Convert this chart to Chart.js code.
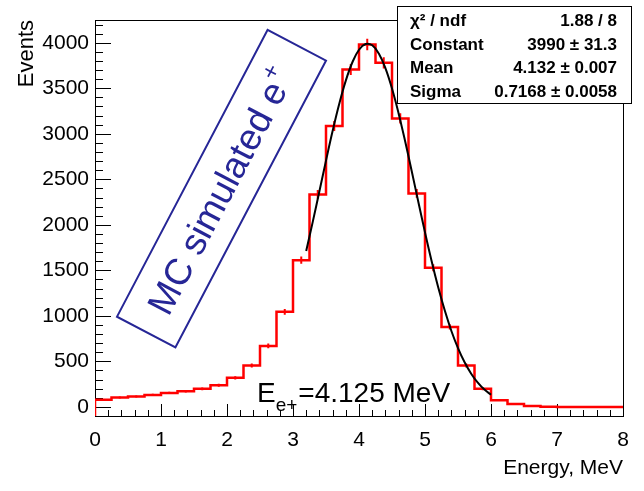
<!DOCTYPE html>
<html>
<head>
<meta charset="utf-8">
<title>MC simulated e+ energy</title>
<script src="https://cdn.jsdelivr.net/npm/chart.js@4.4.1/dist/chart.umd.min.js"></script>
<style>
  html, body { margin: 0; padding: 0; background: #fff; }
  canvas { display: block; }
</style>
</head>
<body>
<canvas id="chart" width="644" height="491"></canvas>
<script>
(function(){
    "use strict";

    // histogram: lower bin edges (MeV) and counts per bin
    const binEdges = [0, 0.25, 0.5, 0.75, 1, 1.25, 1.5, 1.75, 2, 2.25, 2.5, 2.75, 3, 3.25, 3.5, 3.75,
                      4, 4.25, 4.5, 4.75, 5, 5.25, 5.5, 5.75, 6, 6.25, 6.5, 6.75, 7, 7.25, 7.5, 7.75];
    const binCounts = [78, 103, 114, 132, 154, 172, 198, 238, 319, 455, 670, 1044, 1612, 2334, 3085, 3707,
                       3982, 3780, 3169, 2345, 1528, 879, 455, 198, 74, 33, 11, 2, 0, 0, 0, 0];

    // gaussian fit curve
    const fitEnergy = [3.2, 3.3, 3.4, 3.5, 3.6, 3.7, 3.8, 3.9, 4.0, 4.1, 4.2, 4.3, 4.4, 4.5, 4.6,
                       4.7, 4.8, 4.9, 5.0, 5.1, 5.2, 5.3, 5.4, 5.5, 5.6, 5.7, 5.8, 5.9, 6.0];
    const fitEvents = [1713, 2035, 2369, 2705, 3030, 3327, 3584, 3786, 3923, 3986, 3972, 3882, 3721, 3497, 3224,
                       2915, 2585, 2248, 1917, 1603, 1315, 1058, 834, 646, 490, 365, 266, 190, 134];

    const xTickLabels = [0, 1, 2, 3, 4, 5, 6, 7, 8];
    const yTickLabels = [0, 500, 1000, 1500, 2000, 2500, 3000, 3500, 4000];

    const statNames = ['χ² / ndf', 'Constant', 'Mean', 'Sigma'];
    const statValues = ['1.88 / 8', '3990 ± 31.3', '4.132 ± 0.007', '0.7168 ± 0.0058'];

    const FONT = '"Liberation Sans", Arial, Helvetica, sans-serif';
    const BLUE = 'rgb(38,38,150)';
    const Y_MIN = -100;
    const Y_MAX = 4250;

    const histPoints = [{x: binEdges[0], y: Y_MIN}]
        .concat(binEdges.map((e, i) => ({x: e, y: binCounts[i]})))
        .concat([{x: 8, y: binCounts[binCounts.length - 1]}]);

    const fitPoints = fitEnergy.map((e, i) => ({x: e, y: fitEvents[i]}));

    // ROOT style frame with inward ticks
    const rootAxes = {
        id: 'rootAxes',
        beforeDatasetsDraw(chart) {
            const {ctx, chartArea: a, scales: {x, y}} = chart;
            ctx.save();
            ctx.strokeStyle = '#000';
            ctx.lineWidth = 1;
            ctx.beginPath();
            for (let i = 0; i <= 40; i++) {
                const px = Math.round(x.getPixelForValue(i * 0.2)) + 0.5;
                const len = i % 5 === 0 ? 12 : 6;
                ctx.moveTo(px, a.bottom);
                ctx.lineTo(px, a.bottom - len);
            }
            for (let v = 0; v <= 4200; v += 100) {
                const py = Math.round(y.getPixelForValue(v)) + 0.5;
                const len = v % 500 === 0 ? 16 : 8;
                ctx.moveTo(a.left, py);
                ctx.lineTo(a.left + len, py);
            }
            ctx.stroke();
            ctx.strokeRect(Math.round(a.left) + 0.5, Math.round(a.top) + 0.5,
                           Math.round(a.right - a.left), Math.round(a.bottom - a.top));
            ctx.restore();
        }
    };

    // sqrt(N) error bars at bin centres
    const errorBars = {
        id: 'errorBars',
        afterDatasetDraw(chart, args) {
            if (args.index !== 0) return;
            const {ctx, chartArea: a, scales: {x, y}} = chart;
            const half = (binEdges[1] - binEdges[0]) / 2;
            ctx.save();
            ctx.beginPath();
            ctx.rect(a.left, a.top, a.right - a.left, a.bottom - a.top);
            ctx.clip();
            ctx.strokeStyle = '#ff0000';
            ctx.lineWidth = 2;
            ctx.beginPath();
            binCounts.forEach(function(n, i){
                if (n <= 0) return;
                const cx = x.getPixelForValue(binEdges[i] + half);
                const err = Math.sqrt(n);
                ctx.moveTo(cx, y.getPixelForValue(n - err));
                ctx.lineTo(cx, y.getPixelForValue(n + err));
            });
            ctx.stroke();
            ctx.restore();
        }
    };

    // stats box + text labels
    const overlays = {
        id: 'overlays',
        afterDraw(chart) {
            const ctx = chart.ctx;
            ctx.save();

            // stats box
            ctx.fillStyle = '#fff';
            ctx.fillRect(397, 6, 234, 97);
            ctx.strokeStyle = '#000';
            ctx.lineWidth = 1;
            ctx.strokeRect(397.5, 6.5, 234, 97);
            ctx.fillStyle = '#000';
            ctx.font = 'bold 17px ' + FONT;
            ctx.textBaseline = 'alphabetic';
            statNames.forEach(function(name, i){
                const by = 26 + i * 23.7;
                ctx.textAlign = 'left';
                ctx.fillText(name, 410, by);
                ctx.textAlign = 'right';
                ctx.fillText(statValues[i], 617, by);
            });

            // E_e+ label
            ctx.textAlign = 'left';
            ctx.font = '28px ' + FONT;
            let tx = 257;
            ctx.fillText('E', tx, 402);
            tx += ctx.measureText('E').width;
            ctx.font = '19px ' + FONT;
            ctx.fillText('e+', tx, 411);
            tx += ctx.measureText('e+').width + 1;
            ctx.font = '28px ' + FONT;
            ctx.fillText('=4.125 MeV', tx, 402);

            // rotated blue box
            ctx.translate(221.5, 188.7);
            ctx.rotate(-62.3 * Math.PI / 180);
            ctx.strokeStyle = BLUE;
            ctx.lineWidth = 2;
            ctx.strokeRect(-162, -33, 324, 66);
            ctx.fillStyle = BLUE;
            ctx.font = '37px ' + FONT;
            const main = 'MC simulated e';
            const wMain = ctx.measureText(main).width;
            ctx.font = '24px ' + FONT;
            const wSup = ctx.measureText('+').width;
            let sx = -(wMain + wSup) / 2 - 3;
            ctx.font = '37px ' + FONT;
            ctx.fillText(main, sx, 13);
            ctx.font = '24px ' + FONT;
            ctx.fillText('+', sx + wMain + 1, -3);

            ctx.restore();
        }
    };

    new Chart(document.getElementById('chart'), {
        type: 'line',
        data: {
            datasets: [
                {
                    data: histPoints,
                    borderColor: '#ff0000',
                    borderWidth: 2.5,
                    stepped: 'before',
                    pointRadius: 0,
                    fill: false,
                    order: 1
                },
                {
                    data: fitPoints,
                    borderColor: '#000',
                    borderWidth: 2,
                    tension: 0.4,
                    pointRadius: 0,
                    fill: false,
                    order: 0
                }
            ]
        },
        options: {
            responsive: false,
            animation: false,
            layout: { padding: { top: 20, right: 21, left: 0, bottom: 0 } },
            plugins: {
                legend: { display: false },
                tooltip: { enabled: false }
            },
            scales: {
                x: {
                    type: 'linear',
                    min: 0,
                    max: 8,
                    grid: { display: false, drawTicks: false },
                    border: { display: false },
                    afterBuildTicks: s => { s.ticks = xTickLabels.map(v => ({value: v})); },
                    afterFit: s => { s.height = 75; },
                    ticks: { color: '#000', font: { family: FONT, size: 21 }, padding: 12,
                             maxRotation: 0, autoSkip: false, callback: v => String(v) },
                    title: { display: true, text: 'Energy, MeV', align: 'end', color: '#000',
                             font: { family: FONT, size: 21 }, padding: { top: 0, bottom: 10 } }
                },
                y: {
                    min: Y_MIN,
                    max: Y_MAX,
                    grid: { display: false, drawTicks: false },
                    border: { display: false },
                    afterBuildTicks: s => { s.ticks = yTickLabels.map(v => ({value: v})); },
                    afterFit: s => { s.width = 95; },
                    ticks: { color: '#000', font: { family: FONT, size: 21 }, padding: 6,
                             callback: v => String(v) },
                    title: { display: true, text: 'Events', align: 'end', color: '#000',
                             font: { family: FONT, size: 22 }, padding: { top: 14, bottom: 0 } }
                }
            }
        },
        plugins: [rootAxes, errorBars, overlays]
    });
})();
</script>
</body>
</html>
